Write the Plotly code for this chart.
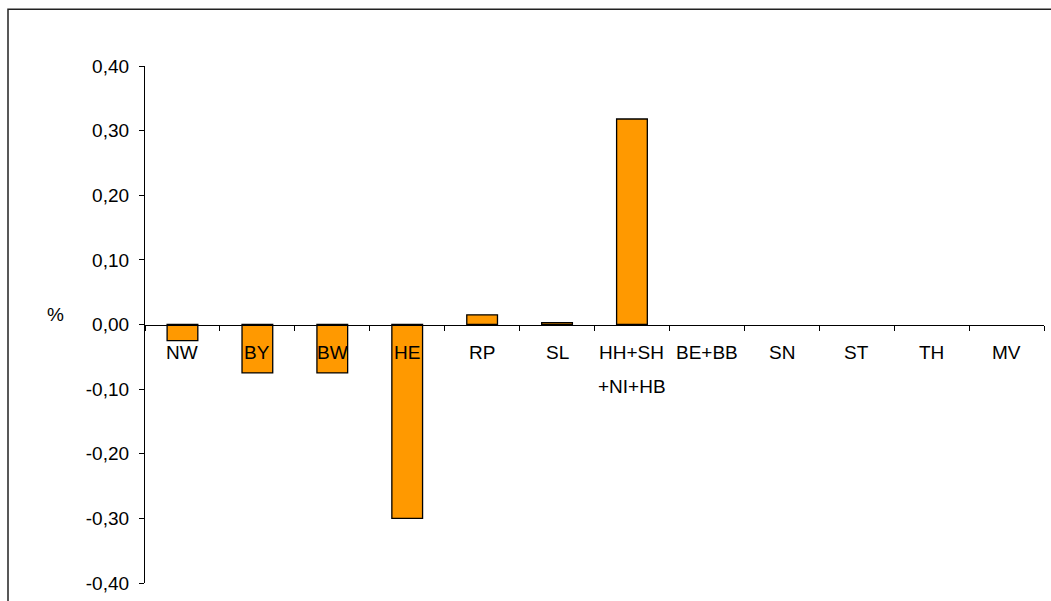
import plotly.graph_objects as go

# Regional values (%) per Bundesland group; None = no value reported
categories = ["NW", "BY", "BW", "HE", "RP", "SL", "HH+SH+NI+HB",
              "BE+BB", "SN", "ST", "TH", "MV"]
label_lines = [["NW"], ["BY"], ["BW"], ["HE"], ["RP"], ["SL"],
               ["HH+SH", "+NI+HB"], ["BE+BB"], ["SN"], ["ST"], ["TH"], ["MV"]]
values = [-0.025, -0.075, -0.075, -0.30, 0.015, 0.003, 0.318,
          None, None, None, None, None]

y_ticks = [-0.4, -0.3, -0.2, -0.1, 0.0, 0.1, 0.2, 0.3, 0.4]
y_tick_labels = ["-0,40", "-0,30", "-0,20", "-0,10", "0,00",
                 "0,10", "0,20", "0,30", "0,40"]

FONT = "Arial, Liberation Sans, sans-serif"
FSIZE = 19
x_pos = list(range(len(categories)))

fig = go.Figure()
fig.add_trace(go.Bar(
    x=x_pos,
    y=values,
    width=0.41,
    marker=dict(color="#FF9900", line=dict(color="#000000", width=1.3)),
    hoverinfo="skip",
))

# Category labels sit just below the zero line
annotations = []
for xi, lines in zip(x_pos, label_lines):
    for li, txt in enumerate(lines):
        annotations.append(dict(
            x=xi, y=0, xref="x", yref="y", text=txt, showarrow=False,
            xanchor="center", yanchor="middle", yshift=-28 - 34 * li,
            font=dict(family=FONT, size=FSIZE, color="#000000"),
        ))

# Unit label left of the value axis
annotations.append(dict(
    x=(55 - 145) / 899, y=0, xref="paper", yref="y", text="%",
    showarrow=False, xanchor="center", yanchor="middle", yshift=10,
    font=dict(family=FONT, size=FSIZE, color="#000000"),
))

fig.update_layout(
    width=1051, height=601,
    margin=dict(l=145, r=7, t=66, b=15),
    paper_bgcolor="white", plot_bgcolor="white",
    showlegend=False,
    font=dict(family=FONT, size=FSIZE, color="#000000"),
    annotations=annotations,
    shapes=[dict(
        type="rect", xref="paper", yref="paper",
        x0=(8 - 145) / 899, x1=(1070 - 145) / 899,
        y0=-(640 - 586) / 520, y1=1 + (66 - 9) / 520,
        line=dict(color="#222222", width=1.5), layer="below",
    )],
    xaxis=dict(
        range=[-0.5, len(categories) - 0.5],
        anchor="free", position=0.5,
        showline=True, linecolor="#000000", linewidth=1.3,
        showgrid=False, zeroline=False,
        showticklabels=False, ticks="",
        minor=dict(tick0=-0.5, dtick=1, ticks="outside", ticklen=5,
                   tickcolor="#000000", tickwidth=1, showgrid=False),
        fixedrange=True,
    ),
    yaxis=dict(
        range=[-0.4, 0.4],
        tickvals=y_ticks, ticktext=y_tick_labels,
        showline=True, linecolor="#000000", linewidth=1.3,
        ticks="outside", ticklen=5, tickcolor="#000000", tickwidth=1,
        ticklabelstandoff=6,
        showgrid=False, zeroline=False,
        tickfont=dict(family=FONT, size=FSIZE, color="#000000"),
        fixedrange=True,
    ),
)

fig.write_html("out.html")
